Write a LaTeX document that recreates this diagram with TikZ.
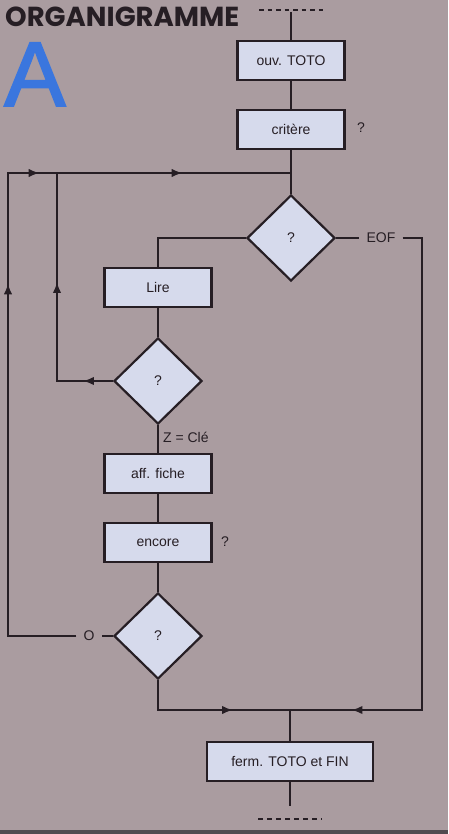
\documentclass[tikz,border=0pt]{standalone}
\usepackage{fontspec}
\setmainfont{Liberation Sans}
\newfontfamily\titlefont{Poppins}
\newfontfamily\letterfont[FakeBold=2]{Liberation Sans}
\usetikzlibrary{shapes.geometric,arrows.meta,decorations.markings}
\definecolor{paper}{RGB}{170,156,160}
\definecolor{boxfill}{RGB}{214,218,236}
\definecolor{ink}{RGB}{38,30,36}
\definecolor{letterblue}{RGB}{58,118,222}
\tikzset{
  every node/.style={font=\fontsize{14}{16}\selectfont, text=ink},
  flow/.style={draw=ink, line width=2.2pt},
  stepbox/.style={flow, fill=boxfill, rectangle, minimum width=107pt, minimum height=39pt, inner sep=0pt},
  testbox/.style={flow, fill=boxfill, diamond, minimum width=88pt, minimum height=86pt, inner sep=0pt},
  lbl/.style={inner sep=1pt},
  gaplbl/.style={inner xsep=7pt, inner ysep=1pt},
  tipat/.style={postaction={decorate, decoration={markings,
     mark=at position #1 with {\arrow{Latex[length=11pt,width=8.5pt]}}}}},
}
\begin{document}
\begin{tikzpicture}[x=1pt,y=-1pt]
  % background sheet
  \fill[paper] (0,0) rectangle (448,834);
  \useasboundingbox (0,0) rectangle (448,834);
  \fill[ink!80] (0,830) rectangle (448,834);

  % heading
  \node[anchor=base west, inner sep=0pt, font=\titlefont\bfseries\fontsize{27.5}{30}\selectfont] (title) at (5,27) {ORGANIGRAMME};
  \node[anchor=base west, inner sep=0pt, text=letterblue, font=\letterfont\fontsize{92}{95}\selectfont] (bigA) at (4,106) {A};

  % steps and tests
  \node[stepbox] (ouv) at (291,60.5) {ouv. TOTO};
  \node[stepbox] (crit) at (291,129.5) {critère};
  \node[lbl] (q1) at (361,128) {?};
  \node[testbox] (d1) at (291,238) {?};
  \node[gaplbl] (eof) at (381,238) {EOF};
  \node[stepbox] (lire) at (158,287.5) {Lire};
  \node[testbox] (d2) at (158,381) {?};
  \node[stepbox] (aff) at (158,473.5) {aff. fiche};
  \node[stepbox] (enc) at (158,542.5) {encore};
  \node[lbl] (q2) at (225,542) {?};
  \node[testbox] (d3) at (158,636) {?};
  \node[gaplbl] (oo) at (89,636) {O};
  \node[stepbox, minimum width=166pt] (ferm) at (290,761.5) {ferm. TOTO et FIN};

  % junction points
  \coordinate (start) at (291,12);
  \coordinate (jtop) at (291,173);
  \coordinate (jbot) at (290,710);
  \coordinate (stop) at (290,806);

  % open ends
  \draw[flow, line width=1.2pt, dash pattern=on 4.5pt off 4pt] (259,10) -- (326,10);
  \draw[flow, line width=1.2pt, dash pattern=on 4.5pt off 4.5pt] (258,819) -- (322,819);

  % main line
  \draw[flow] (start) -- (ouv);
  \draw[flow] (ouv) -- (crit);
  \draw[flow] (crit.south) -- (jtop) -- (d1.north);
  \draw[flow] (d1.west) -| (lire.north);
  \draw[flow] (lire) -- (d2);
  \draw[flow] (d2.south) -- node[lbl, anchor=west, pos=0.45, xshift=3pt] (zcle) {Z = Clé} (aff.north);
  \draw[flow] (aff) -- (enc);
  \draw[flow] (enc) -- (d3);

  % loops back up
  \draw[flow, tipat=421pt, tipat=563pt, tipat=706pt]
    (oo.west) -- (8,636) -- (8,173) -- (jtop);
  \draw[flow] (d3.west) -- (oo.east);
  \draw[flow, tipat=30pt, tipat=155pt] (d2.west) -- (57,381) -- (57,173);

  % exits to the end
  \draw[flow] (d1.east) -- (eof.west);
  \draw[flow, tipat=562pt] (eof.east) -- (422,238) -- (422,710) -- (jbot);
  \draw[flow, tipat=105pt] (d3.south) -- (158,710) -- (jbot);
  \draw[flow] (jbot) -- (ferm.north);
  \draw[flow] (ferm.south) -- (stop);
\end{tikzpicture}
\end{document}
